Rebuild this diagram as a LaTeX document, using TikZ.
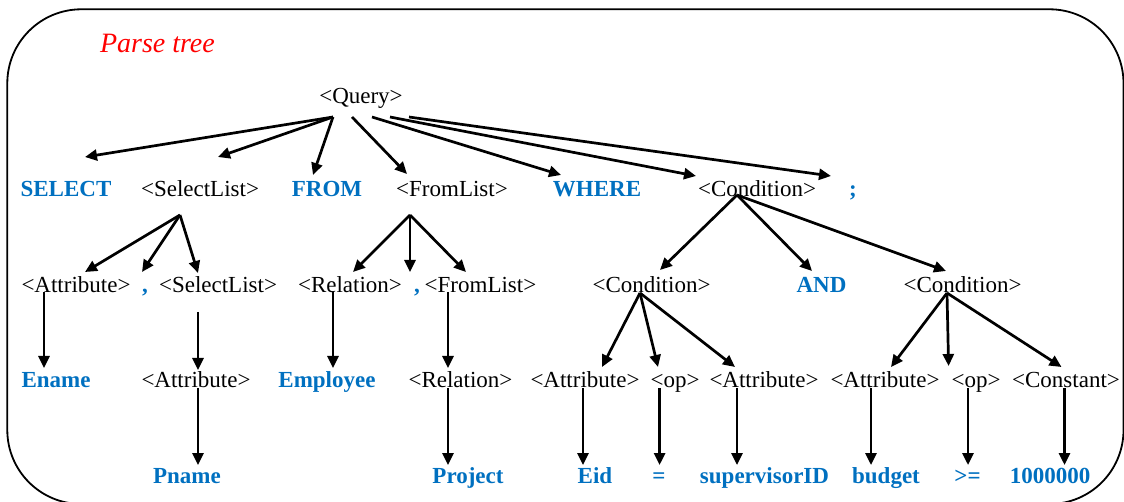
\documentclass[tikz,border=0pt]{standalone}
\usepackage{fontspec}
\setmainfont{Liberation Serif}
\usetikzlibrary{arrows.meta}
\definecolor{termblue}{RGB}{0,112,192}
\definecolor{titlered}{RGB}{255,0,0}
\newcommand\conn[4]{\draw[arr] ([shift={#2}]#1.base) -- ([shift={#4}]#3.base);}
\begin{document}
\begin{tikzpicture}[x=1pt,y=-1pt,
  every node/.style={inner sep=0pt,outer sep=0pt,anchor=base},
  nt/.style={font=\fontsize{23}{27}\selectfont},
  term/.style={font=\fontsize{23}{27}\selectfont\bfseries,text=termblue},
  arr/.style={line width=2.7pt,-{Triangle[length=12pt,width=11pt]}},
  frame/.style={line width=1.8pt,rounded corners=74pt}]
\useasboundingbox (0,0) rectangle (1124,502);
\clip (0,0) rectangle (1124,502);
% outer frame
\draw[frame] (7.3,9.3) rectangle (1123.5,504);
% title
\node[anchor=base west,font=\fontsize{28}{32}\selectfont\itshape,text=titlered] (title) at (100,53) {Parse tree};
% root
\node[nt] (query) at (361,104) {<Query>};
% level 1
\node[term] (select) at (66,197) {SELECT};
\node[nt]   (sl1)    at (200,197) {<SelectList>};
\node[term] (from)   at (327,197) {FROM};
\node[nt]   (fl1)    at (452,197) {<FromList>};
\node[term] (where)  at (597,197) {WHERE};
\node[nt]   (cond1)  at (757,197) {<Condition>};
\node[term] (semi)   at (853,197) {;};
% level 2
\node[nt]   (attr2)  at (76,293) {<Attribute>};
\node[term] (comma1) at (145,293) {,};
\node[nt]   (sl2)    at (218,293) {<SelectList>};
\node[nt]   (rel2)   at (350,293) {<Relation>};
\node[term] (comma2) at (417,293) {,};
\node[nt]   (fl2)    at (480.5,293) {<FromList>};
\node[nt]   (cond2a) at (651.5,293) {<Condition>};
\node[term] (and)    at (821.5,293) {AND};
\node[nt]   (cond2b) at (962.5,293) {<Condition>};
% level 3
\node[term] (ename)    at (56,387) {Ename};
\node[nt]   (attr3)    at (196,387) {<Attribute>};
\node[term] (employee) at (327,387) {Employee};
\node[nt]   (rel3)     at (460.5,387) {<Relation>};
\node[nt]   (attr3a)   at (585,387) {<Attribute>};
\node[nt]   (op3a)     at (675,387) {<op>};
\node[nt]   (attr3b)   at (764,387) {<Attribute>};
\node[nt]   (attr3c)   at (885,387) {<Attribute>};
\node[nt]   (op3b)     at (976,387) {<op>};
\node[nt]   (const)    at (1066,387) {<Constant>};
% level 4
\node[term] (pname)   at (187,483) {Pname};
\node[term] (project) at (468,483) {Project};
\node[term] (eid)     at (595,483) {Eid};
\node[term] (eq)      at (659,483) {=};
\node[term] (supid)   at (764.5,483) {supervisorID};
\node[term] (budget)  at (886,483) {budget};
\node[term] (ge)      at (967.5,483) {>=};
\node[term] (num)     at (1050,483) {1000000};
% <Query> children
\conn{query}{(-28,13)}{select}{(19,-40)}
\conn{query}{(-28,13)}{sl1}{(18,-40)}
\conn{query}{(-28,13)}{from}{(-14,-22)}
\conn{query}{(-9,13)}{fl1}{(-45,-23)}
\conn{query}{(11,13)}{where}{(-36,-22)}
\conn{query}{(29,13)}{cond1}{(-61,-21)}
\conn{query}{(48,13)}{semi}{(-22,-21)}
% <SelectList> children
\conn{sl1}{(-20,18)}{attr2}{(9,-21)}
\conn{sl1}{(-20,18)}{comma1}{(-3,-21)}
\conn{sl1}{(-20,18)}{sl2}{(-20,-20)}
% <FromList> children
\conn{fl1}{(-42,18)}{rel2}{(3,-21)}
\conn{fl1}{(-42,18)}{comma2}{(-7,-21)}
\conn{fl1}{(-42,18)}{fl2}{(-14.5,-21)}
% <Condition> children
\conn{cond1}{(-20,-2)}{cond2a}{(8.5,-23)}
\conn{cond1}{(-20,-2)}{and}{(-9.5,-22)}
\conn{cond1}{(-20,-2)}{cond2b}{(-16.5,-22)}
\conn{cond2a}{(-11.5,0)}{attr3a}{(17,-20)}
\conn{cond2a}{(-11.5,0)}{op3a}{(-17,-20)}
\conn{cond2a}{(-11.5,0)}{attr3b}{(-29,-20)}
\conn{cond2b}{(-15.5,0)}{attr3c}{(6,-20)}
\conn{cond2b}{(-15.5,0)}{op3b}{(-27.4,-21)}
\conn{cond2b}{(-15.5,0)}{const}{(-4.5,-20)}
% single-child derivations
\conn{attr2}{(-32,-1)}{ename}{(-12,-19)}
\conn{sl2}{(-20,19)}{attr3}{(2,-17)}
\conn{rel2}{(-17,-1)}{employee}{(6,-19)}
\conn{fl2}{(-32.5,-1)}{rel3}{(-12.5,-19)}
\conn{attr3}{(2,1)}{pname}{(11,-18)}
\conn{rel3}{(-12.5,1)}{project}{(-20,-18)}
\conn{attr3a}{(-2,1)}{eid}{(-12,-18)}
\conn{op3a}{(-15.4,1)}{eq}{(0.6,-18)}
\conn{attr3b}{(-27,1)}{supid}{(-27.5,-18)}
\conn{attr3c}{(-14,1)}{budget}{(-15,-18)}
\conn{op3b}{(-8,1)}{ge}{(0.5,-18)}
\conn{const}{(-1.5,1)}{num}{(14.5,-18)}
\end{tikzpicture}
\end{document}
